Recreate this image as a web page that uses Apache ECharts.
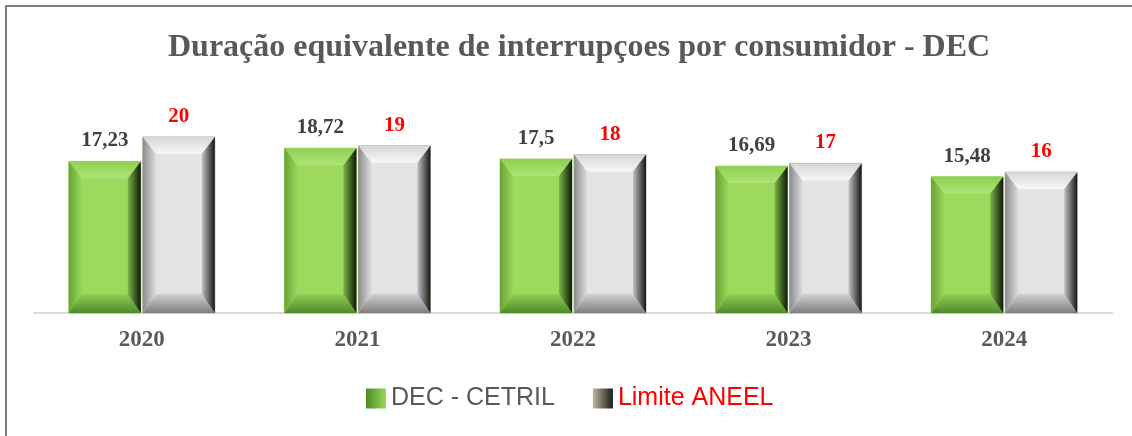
<!DOCTYPE html>
<html>
<head>
<meta charset="utf-8">
<script src="https://cdn.jsdelivr.net/npm/echarts@6/dist/echarts.min.js"></script>
<style>
  html, body { margin: 0; padding: 0; background: #fff; }
  #chart { width: 1132px; height: 436px; }
</style>
</head>
<body>
<div id="chart"></div>
<script>
// dados
const years = ['2020', '2021', '2022', '2023', '2024']
const decValues = [17.23, 18.72, 17.5, 16.69, 15.48]
const limitValues = [20, 19, 18, 17, 16]
const seriesNames = ['DEC - CETRIL', 'Limite ANEEL']

// cores do efeito "bisel" de cada série
const bevelStyles = [
  {
    face: '#9cd95c',
    top: ['#8fcf52', '#aee477'],
    bottom: ['#90cf55', '#4f8a28'],
    left: ['#68a338', '#98d75a'],
    right: ['#7ab646', '#101809'],
    border: '#9fd474',
    label: '#404040'
  },
  {
    face: '#e3e3e3',
    top: ['#d6d6d6', '#f8f8f8'],
    bottom: ['#d0d0d0', '#7e7e7e'],
    left: ['#8c8c8c', '#dcdcdc'],
    right: ['#c2c2c2', '#161616'],
    border: '#b3af93',
    label: '#ff0000'
  }
]

const fmt = v => String(v).replace('.', ',')

function grad(horizontal, c) {
  return new echarts.graphic.LinearGradient(0, 0, horizontal ? 1 : 0, horizontal ? 0 : 1, [
    { offset: 0, color: c[0] },
    { offset: 1, color: c[1] }
  ])
}

function makeRender(idx) {
  const st = bevelStyles[idx]
  return function (params, api) {
    const cat = api.value(0)
    const val = api.value(1)
    const base = api.coord([cat, 0])
    const top = api.coord([cat, val])
    const barW = 72, gap = 2
    const x0 = idx === 0 ? base[0] - gap / 2 - barW : base[0] + gap / 2
    const x1 = x0 + barW
    const yT = top[1], yB = base[1]
    const bx = 13
    const byT = Math.min(17, (yB - yT) / 2), byB = Math.min(19, (yB - yT) / 2)
    return {
      type: 'group',
      children: [
        { type: 'rect', shape: { x: x0, y: yT, width: barW, height: yB - yT }, style: { fill: st.face, stroke: st.border, lineWidth: 1 } },
        { type: 'polygon', shape: { points: [[x0, yT], [x1, yT], [x1 - bx, yT + byT], [x0 + bx, yT + byT]] }, style: { fill: grad(false, st.top) } },
        { type: 'polygon', shape: { points: [[x0 + bx, yB - byB], [x1 - bx, yB - byB], [x1, yB], [x0, yB]] }, style: { fill: grad(false, st.bottom) } },
        { type: 'polygon', shape: { points: [[x0, yT], [x0 + bx, yT + byT], [x0 + bx, yB - byB], [x0, yB]] }, style: { fill: grad(true, st.left) } },
        { type: 'polygon', shape: { points: [[x1 - bx, yT + byT], [x1, yT], [x1, yB], [x1 - bx, yB - byB]] }, style: { fill: grad(true, st.right) } },
        {
          type: 'text',
          style: {
            text: fmt(val), x: (x0 + x1) / 2, y: yT - 10,
            align: 'center', verticalAlign: 'bottom',
            font: 'bold 21px "Liberation Serif", "Times New Roman", serif',
            fill: st.label
          }
        }
      ]
    }
  }
}

const chart = echarts.init(document.getElementById('chart'))
chart.setOption({
  animation: false,
  title: {
    text: 'Duração equivalente de interrupçoes por consumidor - DEC',
    left: 163,
    top: 27,
    textStyle: {
      fontFamily: '"Liberation Serif", "Times New Roman", serif',
      fontWeight: 'bold',
      fontSize: 32,
      color: '#595959'
    }
  },
  legend: {
    bottom: 20,
    left: 361,
    itemWidth: 20,
    itemHeight: 20,
    itemGap: 38,
    textStyle: { fontFamily: '"Liberation Sans", Arial, sans-serif', fontSize: 25 },
    data: [
      { name: seriesNames[0], icon: 'rect', itemStyle: { color: grad(true, ['#4d8726', '#9ad95a']) }, textStyle: { color: '#595959' } },
      { name: seriesNames[1], icon: 'rect', itemStyle: { color: grad(true, ['#bdb99c', '#1a1a1a']) }, textStyle: { color: '#ff0000' } }
    ]
  },
  grid: { left: 34, right: 20, top: 93, bottom: 123 },
  xAxis: {
    type: 'category',
    data: years,
    axisLine: { lineStyle: { color: '#d9d9d9', width: 2 } },
    axisTick: { show: false },
    axisLabel: {
      margin: 16,
      fontFamily: '"Liberation Serif", "Times New Roman", serif',
      fontWeight: 'bold',
      fontSize: 23,
      color: '#595959'
    }
  },
  yAxis: { type: 'value', min: 0, max: 25, show: false, splitLine: { show: false } },
  graphic: [
    { type: 'line', shape: { x1: 6, y1: 6, x2: 1132, y2: 6 }, style: { stroke: '#7f7f7f', lineWidth: 2 } },
    { type: 'line', shape: { x1: 6, y1: 5, x2: 6, y2: 436 }, style: { stroke: '#7f7f7f', lineWidth: 2 } }
  ],
  series: [
    { name: seriesNames[0], type: 'custom', renderItem: makeRender(0), data: decValues.map((v, i) => [i, v]), encode: { x: 0, y: 1 } },
    { name: seriesNames[1], type: 'custom', renderItem: makeRender(1), data: limitValues.map((v, i) => [i, v]), encode: { x: 0, y: 1 } }
  ]
})
</script>
</body>
</html>
